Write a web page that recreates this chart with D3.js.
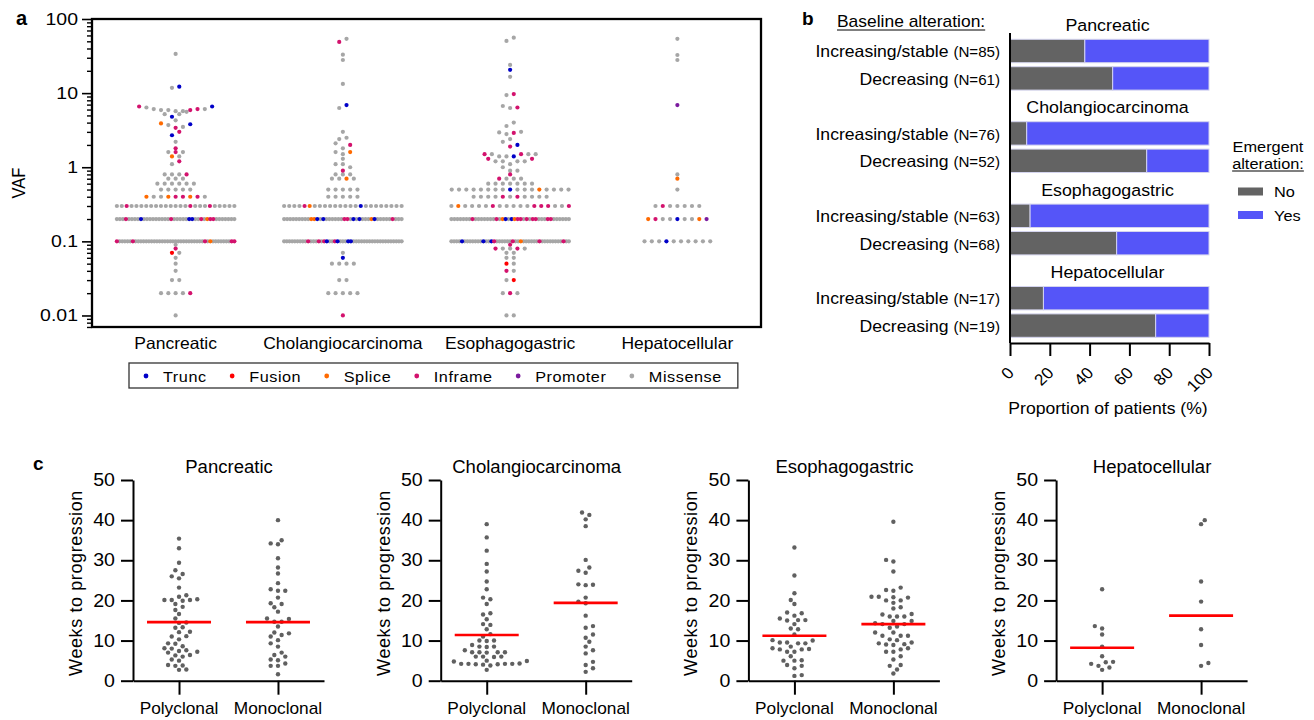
<!DOCTYPE html>
<html><head><meta charset="utf-8">
<script src="https://cdn.jsdelivr.net/npm/d3@7"></script>
<style>
html,body{margin:0;padding:0;background:#fff;}
svg{display:block;font-family:"Liberation Sans",Arial,Helvetica,sans-serif;}
</style></head><body>
<svg id="chart" width="1314" height="720"></svg>
<script>
// ================= DATA =================
const cancerTypes = ["Pancreatic","Cholangiocarcinoma","Esophagogastric","Hepatocellular"];
const mutTypes  = ["Trunc","Fusion","Splice","Inframe","Promoter","Missense"];
const mutCodes  = ["T","F","S","I","P","M"];
const mutColors = ["#0000c8","#ff0000","#ff6a00","#d3126d","#7b1a9e","#a6a6a6"];
const vafTicks  = [0.01,0.1,1,10,100];

// panel a: each string = one group of alterations, "VAF:types" tokens listed left to right
const vafPancreatic = [
  "33.8:M","11.8:M 12.2:T",
  "6.6:I 6.4:M 6.1:M 5.9:M 5.9:M 5.7:M 5.7:M 5.9:I 6.1:I 6.1:M 6.6:T",
  "5.2:M 4.8:T 5.2:M 5.6:M","3.9:S 3.7:M 4.3:M 3.5:M 3.8:T","3.4:I","2.7:T 3.0:I","2.2:M","1.8:I",
  "1.6:M 1.6:I 1.6:M","1.4:S 1.4:M","1.1:M 1.2:I",
  "0.8:M3I","0.7:M3","0.6:M6","0.5:M5","0.4:SM2SI2SIM","0.3:M2IM12IM3IM5",
  "0.2:M3IM4TM9IM5T2M2IMSI2M7","0.1:IM5IM26IMSM7I2",
  "0.09:M","0.08:I","0.07:FM","0.06:M","0.05:M","0.04:M","0.03:M2","0.02:M4I","0.01:M"
];
const vafCholangio = [
  "49:I 54:M","33:M","28:M","13.3:M","6.3:M 6.9:T","3.0:M","2.4:M 2.5:M","2.1:M 1.8:M 2.0:I",
  "1.6:M 1.5:M 1.6:S","1.3:M","1.1:M 1.1:M 1.0:M","0.9:I",
  "0.8:M3","0.7:M2SM","0.5:M5","0.4:M5","0.3:M4ISM9TM8",
  "0.2:M9S2TMTM6I2MTMTM3STM5IM3","0.1:M9IM3IMITM2ITM3T2M19",
  "0.07:M","0.06:T","0.05:M4","0.03:M2","0.02:M5","0.01:I"
];
const vafEsophago = [
  "50.6:M 56:M","24:M","20.6:T","16.6:M","9.4:M 9.7:I","6.7:M 6.3:M 6.4:I","3.6:M 4.0:M",
  "2.95:M 2.8:M 2.9:I 3.0:M","2.4:M","2.2:M 1.9:I 2.0:T",
  "1.5:I 1.5:M 1.4:M 1.4:M 1.4:T 1.5:I 1.5:M 1.5:M",
  "1.3:I 1.2:M 1.2:M 1.1:M 1.2:M 1.2:M 1.3:I","1.0:M 0.9:M 0.9:M","0.8:I",
  "0.7:IM3","0.6:M7","0.5:M8TM3SM4","0.4:M4IMIM4","0.3:MSM4IM5I3M2I",
  "0.2:M7IM7IMSTMTSI2MIMI2M3I2M6","0.1:M4TM7TM2TIM6IM2SM6IM8IM2",
  "0.09:I","0.08:IM2IM","0.07:M2","0.06:M2","0.05:FM","0.04:IM","0.03:MF","0.02:MIM","0.01:M2"
];
const vafHepato = [
  "54:M","32.7:M","28:M","6.9:P","0.8:M","0.7:S","0.5:M","0.3:MIM5","0.2:SIM2TM2SP","0.1:M3TM6"
];
const vafByCancer = [vafPancreatic, vafCholangio, vafEsophago, vafHepato];

// panel b
const baselineRows = ["Increasing/stable","Decreasing"];
const patientsN    = [[85,61],[76,52],[63,68],[17,19]];
const pctNoEmergent = [[37.6,51.6],[8.4,68.7],[10.1,53.6],[16.8,73.2]];
const pctTicks = [0,20,40,60,80,100];
const emergentKeys = ["No","Yes"];
const emergentColors = ["#636363","#5555f8"];

// panel c
const clonality = ["Polyclonal","Monoclonal"];
const weeksTicks = [0,10,20,30,40,50];
const pancPoly = [35.4,33.0,29.4,27.5,26.6,26.0,25.5,23.2,21.3,20.9,20.3,20.1,20.1,20.1,19.9,19.1,18.4,17.6,16.6,15.5,14.5,14.4,13.3,13.2,12.2,12.1,11.1,11.0,10.3,9.3,9.2,8.6,8.1,8.0,7.6,7.4,7.2,7.0,6.4,6.3,6.0,5.3,5.0,3.9,3.8,3.7,2.8,2.7];
const pancMono = [40.0,35.0,34.2,34.0,30.5,28.2,26.7,24.3,22.8,22.4,22.4,20.7,19.3,19.1,18.3,17.2,15.5,15.4,14.7,14.7,13.5,12.0,11.8,11.4,11.0,10.1,9.3,8.5,7.0,6.4,6.0,5.3,5.1,4.3,3.7,3.7,1.6];
const cholPoly = [39.0,35.7,32.4,29.1,27.2,24.7,22.8,20.7,20.3,19.1,16.8,16.5,15.3,14.1,13.9,12.8,11.6,11.0,10.0,10.0,9.9,8.9,8.5,8.5,8.4,7.6,7.1,7.1,7.0,7.1,7.1,6.0,6.0,6.0,5.9,5.0,4.9,4.8,4.3,4.2,4.2,4.2,4.1,4.2,4.0,3.8,4.1,2.7];
const cholMono = [41.9,41.3,40.2,38.5,30.1,28.2,27.4,26.9,24.0,23.9,23.8,20.7,19.7,19.3,16.2,13.6,13.2,11.5,10.7,9.7,8.5,7.6,6.8,4.7,3.9,3.1,2.2];
const esoPoly  = [33.2,26.2,21.8,20.1,19.1,17.0,16.8,16.2,15.5,15.1,15.1,15.0,14.1,13.0,12.8,11.5,10.1,10.0,9.5,9.5,9.3,9.3,8.5,8.1,7.9,7.8,7.8,7.2,7.2,6.1,5.1,5.0,5.0,3.9,3.7,3.1,1.4,1.2];
const esoMono  = [39.6,30.1,29.7,27.2,23.2,22.6,22.4,20.9,20.9,20.8,20.7,20.0,20.0,19.4,18.3,18.0,16.6,16.5,16.0,16.0,16.0,14.9,14.9,14.3,14.1,14.1,13.5,13.2,12.0,12.0,11.2,11.2,11.2,10.3,10.1,9.5,9.3,9.1,9.0,8.9,8.1,7.8,7.2,7.2,6.1,5.3,3.9,3.7,2.8,1.8];
const hepPoly  = [22.8,13.6,13.0,11.5,8.5,6.1,4.7,4.6,4.2,3.7,3.3,2.7];
const hepMono  = [40.0,39.0,24.7,19.7,12.8,8.9,4.4,3.7];
const weeksPoly = [pancPoly, cholPoly, esoPoly, hepPoly];
const weeksMono = [pancMono, cholMono, esoMono, hepMono];
const medianPoly = [14.6, 11.4, 11.2, 8.2];
const medianMono = [14.6, 19.4, 14.1, 16.2];

// ================= HELPERS =================
const svg = d3.select("#chart");
function txt(g, x, y, s, o = {}) {
  const t = g.append("text")
    .attr("transform", `translate(${x},${y}) scale(${o.sx || 1},1)` + (o.rot ? ` rotate(${o.rot})` : ""))
    .attr("text-anchor", o.anchor || "start")
    .style("font-size", (o.size || 16) + "px")
    .style("font-weight", o.weight || "normal")
    .attr("fill", o.fill || "#000")
    .text(s);
  if (o.ls) t.style("letter-spacing", o.ls + "px");
  return t;
}
function parseRows(rows) {
  const pts = [];
  rows.forEach(r => {
    const row = [];
    r.trim().split(/\s+/).forEach(tok => {
      const [v, spec] = tok.split(":");
      const re = /([A-Z])(\d*)/g; let m;
      while ((m = re.exec(spec))) {
        const n = m[2] ? +m[2] : 1;
        for (let k = 0; k < n; k++) row.push({ v: +v, t: m[1] });
      }
    });
    row.forEach((p, i) => { p.i = i; p.n = row.length; });
    pts.push(...row);
  });
  return pts;
}
function swarm(vals, y, step = 3.65, minD = 5.3) {
  const pts = vals.map(v => ({ v, y: y(v) })).sort((a, b) => a.v - b.v);
  const placed = [];
  pts.forEach((p, idx) => {
    for (let k = 0; k < 80; k++) {
      const cands = k === 0 ? [0] : (idx % 2 ? [k, -k] : [-k, k]);
      let found = null;
      for (const c of cands) {
        const x = c * step;
        if (placed.every(q => (q.x - x) ** 2 + (q.y - p.y) ** 2 >= minD * minD)) { found = x; break; }
      }
      if (found !== null) { p.x = found; break; }
    }
    placed.push(p);
  });
  return placed;
}
function styleAxis(g, w) {
  g.selectAll("line").attr("stroke", "#000").attr("stroke-width", w);
  g.selectAll(".domain").attr("stroke", "#000").attr("stroke-width", w);
}

// ================= PANEL A =================
const aL = 92, aR = 761, aT = 19, aB = 327;
const ya = d3.scaleLog().domain([0.00699, 100]).range([aB, aT]);
const xa = d3.scaleBand().domain(cancerTypes).range([aL, aR]);
const ga = svg.append("g");
const minors = [];
for (let e = -3; e <= 1; e++) for (let m = 2; m <= 9; m++) {
  const v = +(m * Math.pow(10, e)).toPrecision(3);
  if (v >= 0.00699 && v <= 100) minors.push(v);
}
ga.append("g").attr("transform", `translate(${aL},0)`)
  .call(d3.axisLeft(ya).tickValues(minors).tickSize(5).tickFormat(""))
  .call(g => g.select(".domain").remove()).call(g => styleAxis(g, 1.4));
ga.append("g").attr("transform", `translate(${aL},0)`)
  .call(d3.axisLeft(ya).tickValues(vafTicks).tickSize(10).tickFormat(""))
  .call(g => g.select(".domain").remove()).call(g => styleAxis(g, 1.6));
vafTicks.forEach(v => txt(ga, 78, ya(v) + 5.8, d3.format("~g")(v), { size: 16.5, sx: 1.18, anchor: "end" }));

const colorOf = c => mutColors[mutCodes.indexOf(c)];
const W_ROW = 117.5, STEP_A = 7.3;
let aPts = [];
cancerTypes.forEach((c, ci) => {
  const cx = xa(c) + xa.bandwidth() / 2;
  parseRows(vafByCancer[ci]).forEach(p => {
    const s = p.n > 1 ? Math.min(STEP_A, W_ROW / (p.n - 1)) : 0;
    aPts.push({ x: cx + (p.i - (p.n - 1) / 2) * s, y: ya(p.v), t: p.t });
  });
});
aPts.sort((a, b) => (a.t === "M" ? 0 : 1) - (b.t === "M" ? 0 : 1));
ga.append("g").selectAll("circle").data(aPts).join("circle")
  .attr("cx", d => d.x).attr("cy", d => d.y).attr("r", 2.1).attr("fill", d => colorOf(d.t));
ga.append("rect").attr("x", aL).attr("y", aT).attr("width", aR - aL).attr("height", aB - aT)
  .attr("fill", "none").attr("stroke", "#000").attr("stroke-width", 2.3);
cancerTypes.forEach(c => txt(ga, xa(c) + xa.bandwidth() / 2, 349, c, { size: 16.5, sx: 1.06, anchor: "middle" }));
txt(ga, 25, 183, "VAF", { size: 16.5, sx: 1.12, rot: -90, anchor: "middle" });
txt(svg, 16, 25, "a", { size: 20, weight: "bold" });

// legend
const lg = svg.append("g");
let lx = 146; const ly = 376;
mutTypes.forEach((m, i) => {
  lg.append("circle").attr("cx", lx).attr("cy", ly).attr("r", 2.4).attr("fill", mutColors[i]);
  const t = txt(lg, lx + 17, ly + 5.5, m, { size: 14.5, sx: 1.12, ls: 0.5 });
  const w = t.node().getComputedTextLength() * 1.12;
  lx = lx + 17 + w + (i < mutTypes.length - 1 ? 25.5 : 16);
});
lg.insert("rect", ":first-child").attr("x", 129).attr("y", 363).attr("width", lx - 129).attr("height", 25)
  .attr("fill", "none").attr("stroke", "#333").attr("stroke-width", 1.3);

// ================= PANEL B =================
const gb = svg.append("g");
const xb = d3.scaleLinear().domain([0, 100]).range([1010, 1209]);
const yGroup = d3.scaleBand().domain(cancerTypes).range([18.3, 18.3 + 4 * 82.4]);
const yRow = d3.scaleBand().domain(baselineRows).range([21, 71.8]).paddingInner(0.146).paddingOuter(0);
const SXB = 1.08;
cancerTypes.forEach((c, ci) => {
  const g0 = yGroup(c);
  txt(gb, xb(50) - 2, g0 + 12.5, c, { size: 16.5, sx: SXB, anchor: "middle" });
  baselineRows.forEach((r, ri) => {
    const y = g0 + yRow(r), h = yRow.bandwidth();
    const no = pctNoEmergent[ci][ri];
    const segs = [[0, no], [no, 100]];
    segs.forEach((s, si) => {
      gb.append("rect").attr("x", xb(s[0])).attr("y", y).attr("width", xb(s[1]) - xb(s[0])).attr("height", h)
        .attr("fill", emergentColors[si]).attr("stroke", "#d4d4ee").attr("stroke-width", 1);
    });
    const t = gb.append("text")
      .attr("transform", `translate(1000,${y + h / 2 + 6.3}) scale(${SXB},1)`)
      .attr("text-anchor", "end").attr("fill", "#000");
    t.append("tspan").style("font-size", "16.3px").text(r + " ");
    t.append("tspan").style("font-size", "14px").text(`(N=${patientsN[ci][ri]})`);
  });
});
gb.append("line").attr("x1", xb(0)).attr("x2", xb(0)).attr("y1", 33).attr("y2", 343)
  .attr("stroke", "#000").attr("stroke-width", 2);
gb.append("g").attr("transform", "translate(0,343)")
  .call(d3.axisBottom(xb).tickValues(pctTicks).tickSize(13).tickSizeOuter(0).tickFormat(""))
  .call(g => styleAxis(g, 2));
pctTicks.forEach(v => txt(gb, xb(v) + 5, 374, String(v), { size: 16, sx: SXB, rot: -45, anchor: "end" }));
txt(gb, 1108, 414, "Proportion of patients (%)", { size: 16, sx: 1.1, anchor: "middle" });
const tb = txt(gb, 837, 27, "Baseline alteration:", { size: 16, sx: 1.09 });
const tbw = tb.node().getComputedTextLength() * 1.09;
gb.append("line").attr("x1", 837).attr("x2", 837 + tbw).attr("y1", 30).attr("y2", 30).attr("stroke", "#000").attr("stroke-width", 1.2);
txt(svg, 802, 25, "b", { size: 19, weight: "bold" });
txt(gb, 1268, 152, "Emergent", { size: 15, sx: 1.09, anchor: "middle" });
const te = txt(gb, 1268, 168.5, "alteration:", { size: 15, sx: 1.09, anchor: "middle" });
const tew = te.node().getComputedTextLength() * 1.09;
gb.append("line").attr("x1", 1268 - tew / 2).attr("x2", 1268 + tew / 2).attr("y1", 171).attr("y2", 171).attr("stroke", "#000").attr("stroke-width", 1.1);
emergentKeys.forEach((k, i) => {
  const yy = 191.5 + i * 23.5;
  gb.append("rect").attr("x", 1238).attr("y", yy - 4).attr("width", 25).attr("height", 8).attr("fill", emergentColors[i]);
  txt(gb, 1274, yy + 5.5, k, { size: 15, sx: 1.09 });
});

// ================= PANEL C =================
const gc = svg.append("g");
const yc = d3.scaleLinear().domain([0, 50]).range([680.7, 480]);
txt(svg, 33, 470, "c", { size: 19, weight: "bold" });
cancerTypes.forEach((c, ci) => {
  const ax = 133 + ci * 307.7;
  const xc = d3.scalePoint().domain(clonality).range([ax, ax + 191]).padding(0.465);
  const g = gc.append("g");
  g.append("g").attr("transform", `translate(${ax},0)`)
    .call(d3.axisLeft(yc).tickValues(weeksTicks).tickSize(12).tickSizeOuter(0).tickFormat(""))
    .call(gg => styleAxis(gg, 2));
  g.append("g").attr("transform", `translate(0,${yc(0)})`)
    .call(d3.axisBottom(xc).tickSize(14).tickSizeOuter(0).tickFormat(""))
    .call(gg => styleAxis(gg, 2));
  weeksTicks.forEach(v => txt(g, ax - 18, yc(v) + 6.2, String(v), { size: 17.5, sx: 1.12, anchor: "end" }));
  clonality.forEach(k => txt(g, xc(k), 714, k, { size: 16, sx: 1.08, anchor: "middle" }));
  txt(g, ax + 96, 472.5, c, { size: 17.5, sx: 1.06, anchor: "middle" });
  txt(g, ax - 51, 583, "Weeks to progression", { size: 18, rot: -90, anchor: "middle", ls: 0.6 });
  [weeksPoly[ci], weeksMono[ci]].forEach((vals, k) => {
    const cx = xc(clonality[k]);
    const pts = swarm(vals, yc);
    g.append("g").selectAll("circle").data(pts).join("circle")
      .attr("cx", d => cx + d.x).attr("cy", d => d.y).attr("r", 2.2).attr("fill", "#606060");
    const med = k === 0 ? medianPoly[ci] : medianMono[ci];
    g.append("line").attr("x1", cx - 32).attr("x2", cx + 32).attr("y1", yc(med)).attr("y2", yc(med))
      .attr("stroke", "#ff0000").attr("stroke-width", 2.6);
  });
});
</script>
</body></html>
